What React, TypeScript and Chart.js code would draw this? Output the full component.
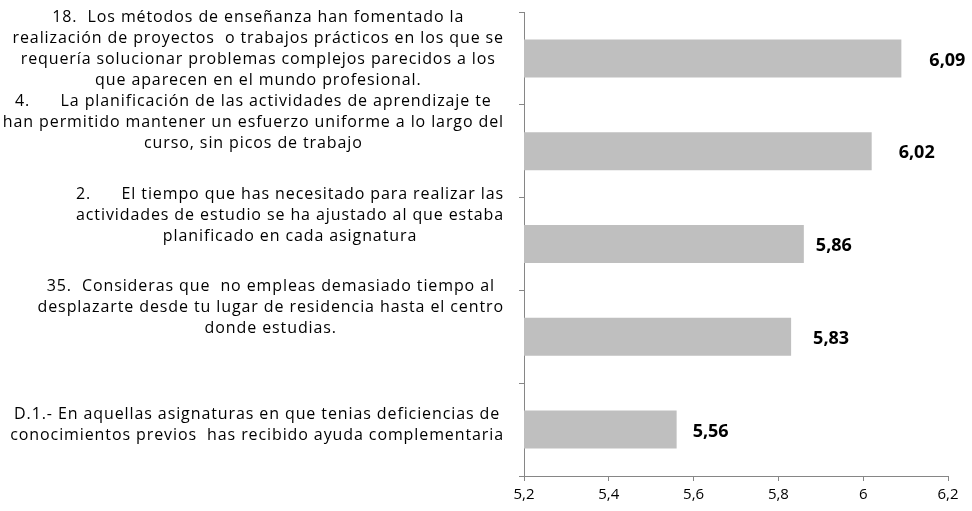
import React, { useEffect, useRef } from "react";
import { Chart, registerables } from "chart.js";

Chart.register(...registerables);

// ---- data ----
const categories: string[][] = [
  [
    "18.  Los métodos de enseñanza han fomentado la",
    "realización de proyectos  o trabajos prácticos en los que se",
    "requería solucionar problemas complejos parecidos a los",
    "que aparecen en el mundo profesional.",
  ],
  [
    "4.      La planificación de las actividades de aprendizaje te",
    "han permitido mantener un esfuerzo uniforme a lo largo del",
    "curso, sin picos de trabajo",
  ],
  [
    "2.      El tiempo que has necesitado para realizar las",
    "actividades de estudio se ha ajustado al que estaba",
    "planificado en cada asignatura",
  ],
  [
    "35.  Consideras que  no empleas demasiado tiempo al",
    "desplazarte desde tu lugar de residencia hasta el centro",
    "donde estudias.",
  ],
  [
    "D.1.- En aquellas asignaturas en que tenias deficiencias de",
    "conocimientos previos  has recibido ayuda complementaria",
  ],
];
const values: number[] = [6.09, 6.02, 5.86, 5.83, 5.56];
const valueLabels: string[] = ["6,09", "6,02", "5,86", "5,83", "5,56"];
const xMin = 5.2;
const xMax = 6.2;
const xStep = 0.2;

// ---- style constants ----
const CAT_FONT = '16px "Open Sans"';
const CAT_SPACING = "0.9px";
const LINE_H = 21;
const VALUE_FONT = 'bold 18px "Open Sans"';
const LABEL_RIGHT_GAP = 20;
const LABEL_NUDGE = [-9, -29, -29, -29, -5];
const VALUE_GAP = [28, 27, 12, 22, 16];
const AXIS_COLOR = "#868686";
const BAR_COLOR = "#BFBFBF";

const labelPlugin = {
  id: "customLabels",
  afterDraw(chart: any) {
    const ctx = chart.ctx as any;
    const yScale = chart.scales.y;
    ctx.save();
    ctx.fillStyle = "#000";
    ctx.font = CAT_FONT;
    ctx.letterSpacing = CAT_SPACING;
    ctx.textAlign = "center";
    ctx.textBaseline = "middle";
    categories.forEach((lines, i) => {
      const cy = yScale.getPixelForValue(i) + LABEL_NUDGE[i];
      const maxW = Math.max(...lines.map((l) => ctx.measureText(l).width));
      const cx = chart.chartArea.left - LABEL_RIGHT_GAP - maxW / 2;
      const top = cy - ((lines.length - 1) * LINE_H) / 2;
      lines.forEach((l, k) => ctx.fillText(l, cx, top + k * LINE_H));
    });
    ctx.letterSpacing = "0px";
    ctx.font = VALUE_FONT;
    ctx.textAlign = "left";
    const meta = chart.getDatasetMeta(0);
    meta.data.forEach((bar: any, i: number) => {
      ctx.fillText(valueLabels[i], bar.x + VALUE_GAP[i], bar.y + 2);
    });
    ctx.restore();
  },
};

export default function App() {
  const ref = useRef<HTMLCanvasElement | null>(null);
  useEffect(() => {
    if (!ref.current) return;
    const chart = new Chart(ref.current, {
      type: "bar",
      data: {
        labels: categories.map((c) => c.join(" ")),
        datasets: [
          {
            data: values,
            backgroundColor: BAR_COLOR,
            borderWidth: 0,
            barPercentage: 1,
            categoryPercentage: 0.41,
          },
        ],
      },
      options: {
        indexAxis: "y",
        responsive: false,
        animation: false,
        layout: { padding: { top: 12, right: 24, left: 0, bottom: 0 } },
        plugins: { legend: { display: false }, tooltip: { enabled: false } },
        scales: {
          x: {
            min: xMin,
            max: xMax,
            border: { color: AXIS_COLOR, width: 1 },
            grid: { drawOnChartArea: false, drawTicks: true, tickLength: 5, color: AXIS_COLOR },
            ticks: {
              stepSize: xStep,
              color: "#000",
              font: { family: '"Open Sans"', size: 15 },
              padding: 5,
              maxRotation: 0,
              callback: (v: any) => String(Math.round(Number(v) * 10) / 10).replace(".", ","),
            },
            afterFit: (s: any) => {
              s.height = 35;
            },
          },
          y: {
            border: { color: AXIS_COLOR, width: 1 },
            grid: { drawOnChartArea: false, drawTicks: true, tickLength: 5, color: AXIS_COLOR, offset: true },
            ticks: { display: false },
            afterFit: (s: any) => {
              s.width = 524;
            },
          },
        },
      },
      plugins: [labelPlugin],
    });
    return () => chart.destroy();
  }, []);
  return (
    <div style={{ position: "absolute", left: 0, top: 0, width: 972, height: 511, background: "#fff" }}>
      <canvas ref={ref} width={972} height={511} style={{ display: "block" }} />
    </div>
  );
}
